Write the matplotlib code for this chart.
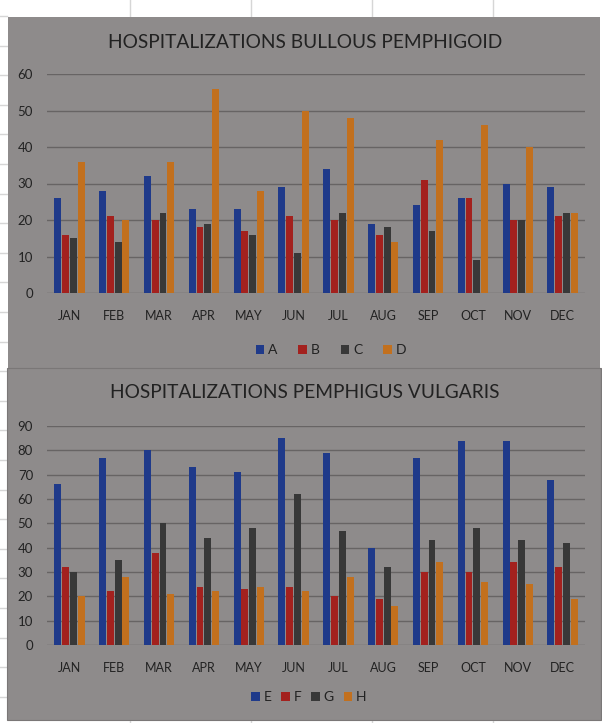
import matplotlib
matplotlib.use("Agg")
import matplotlib.pyplot as plt
from matplotlib.patches import Rectangle
from matplotlib.lines import Line2D
import numpy as np

# monthly hospitalizations
months = ["JAN", "FEB", "MAR", "APR", "MAY", "JUN",
          "JUL", "AUG", "SEP", "OCT", "NOV", "DEC"]

bp_names = ["A", "B", "C", "D"]
bp_a = [26, 28, 32, 23, 23, 29, 34, 19, 24, 26, 30, 29]
bp_b = [16, 21, 20, 18, 17, 21, 20, 16, 31, 26, 20, 21]
bp_c = [15, 14, 22, 19, 16, 11, 22, 18, 17, 9, 20, 22]
bp_d = [36, 20, 36, 56, 28, 50, 48, 14, 42, 46, 40, 22]

pv_names = ["E", "F", "G", "H"]
pv_e = [66, 77, 80, 73, 71, 85, 79, 40, 77, 84, 84, 68]
pv_f = [32, 22, 38, 24, 23, 24, 20, 19, 30, 30, 34, 32]
pv_g = [30, 35, 50, 44, 48, 62, 47, 32, 43, 48, 43, 42]
pv_h = [20, 28, 21, 22, 24, 22, 28, 16, 34, 26, 25, 19]

colors = ["#1f3a8a", "#a3211e", "#383838", "#c2701e"]
panel_bg = "#8e8b8b"
grid_col = "#676464"
text_col = "#222222"

W, H = 602, 723
plt.rcParams['font.family'] = ['Lato', 'DejaVu Sans']

fig = plt.figure(figsize=(W / 100, H / 100), dpi=100)
fig.patch.set_facecolor("white")


def fx(px):
    return px / W


def fy(py):
    return 1 - py / H


# faint worksheet cell lines around the pasted charts
sheet_col = "#d6d6d6"
for x in [130, 251, 372, 493]:
    fig.add_artist(Line2D([fx(x), fx(x)], [fy(0), fy(17)], color=sheet_col, lw=1, zorder=-10))
    fig.add_artist(Line2D([fx(x), fx(x)], [fy(720), fy(723)], color=sheet_col, lw=1, zorder=-10))
for y in np.arange(16, 723, 29.6):
    fig.add_artist(Line2D([0, fx(7)], [fy(y), fy(y)], color=sheet_col, lw=1, zorder=-10))

# grey chart areas
fig.add_artist(Rectangle((fx(8), fy(368)), fx(600) - fx(8), fy(17) - fy(368),
                         facecolor=panel_bg, edgecolor="none", zorder=-5))
fig.add_artist(Rectangle((fx(7), fy(720)), fx(601) - fx(7), fy(368) - fy(720),
                         facecolor=panel_bg, edgecolor="#7a7777", lw=0.8, zorder=-5))


def panel(series, names, title, ymax, top_px, zero_px, title_y, leg_xy, leg_space):
    ax = fig.add_axes([fx(47), fy(zero_px), fx(585) - fx(47), fy(top_px) - fy(zero_px)])
    ax.set_facecolor("none")
    x = np.arange(len(months))
    width = 0.155
    step = 0.174
    handles = []
    for i, (vals, name) in enumerate(zip(series, names)):
        b = ax.bar(x + (i - 1.5) * step, vals, width, color=colors[i], label=name, zorder=3)
        handles.append(b)
    ax.set_xlim(-0.5, len(months) - 0.5)
    ax.set_ylim(0, ymax)
    ax.set_yticks(np.arange(0, ymax + 1, 10))
    ax.set_xticks(x)
    ax.set_xticklabels(months)
    ax.yaxis.grid(True, color=grid_col, lw=1.0, zorder=0)
    ax.set_axisbelow(True)
    for s in ax.spines.values():
        s.set_visible(False)
    ax.tick_params(axis="y", length=0, pad=10, labelsize=9.5, labelcolor=text_col)
    ax.tick_params(axis="x", length=0, pad=12, labelsize=9, labelcolor=text_col)
    fig.text(fx(305), fy(title_y), title, ha="center", va="center",
             fontsize=13.8, color=text_col)
    fig.legend(handles=handles, labels=names, loc="center",
               bbox_to_anchor=(fx(leg_xy[0]), fy(leg_xy[1])),
               ncol=4, frameon=False, fontsize=10, labelcolor=text_col,
               handlelength=0.6, handleheight=0.6, handletextpad=0.3,
               columnspacing=leg_space)
    return ax


panel([bp_a, bp_b, bp_c, bp_d], bp_names, "HOSPITALIZATIONS BULLOUS PEMPHIGOID",
      60, 74, 293, 42, (331, 350), 1.5)
panel([pv_e, pv_f, pv_g, pv_h], pv_names, "HOSPITALIZATIONS PEMPHIGUS VULGARIS",
      90, 426, 645, 392, (309, 697), 0.7)

fig.savefig("out.png", dpi=100, facecolor=fig.get_facecolor())
